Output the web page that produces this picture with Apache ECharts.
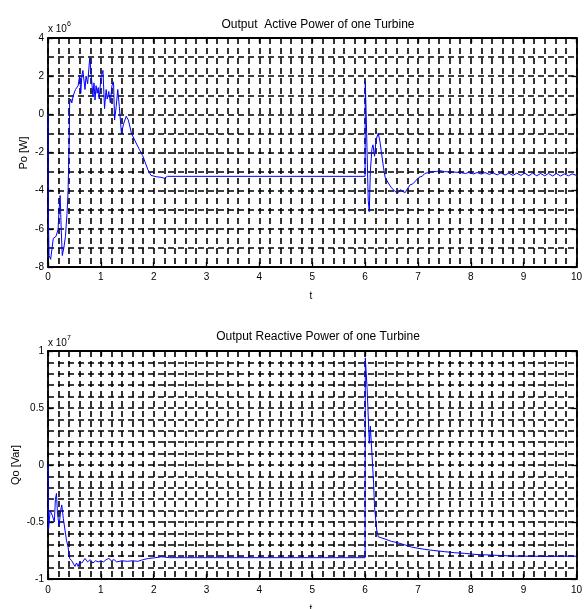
<!DOCTYPE html>
<html>
<head>
<meta charset="utf-8">
<script src="https://cdn.jsdelivr.net/npm/echarts@6/dist/echarts.min.js"></script>
<style>html,body{margin:0;padding:0;background:#fff}#c{width:585px;height:609px}</style>
</head>
<body>
<div id="c"></div>
<script>
// ---- Data ----
var xTicks = [0,1,2,3,4,5,6,7,8,9,10];
var titleP = 'Output  Active Power of one Turbine';
var titleQ = 'Output Reactive Power of one Turbine';
var labelP = 'Po [W]';
var labelQ = 'Qo [Var]';
var expP = '6';
var expQ = '7';

var timeP = [0,0.005,0.02,0.05,0.08,0.1,0.15,0.19,0.21,0.23,0.25,0.27,0.3,0.33,0.36,0.38,0.4,0.41,0.43,0.45,0.48,0.5,0.52,0.54,0.57,0.6,0.62,0.64,0.66,0.68,0.7,0.72,0.75,0.79,0.82,0.85,0.87,0.89,0.91,0.93,0.95,0.97,1.0,1.04,1.07,1.1,1.12,1.15,1.18,1.21,1.24,1.26,1.29,1.32,1.35,1.39,1.43,1.48,1.52,1.58,1.64,1.73,1.79,1.85,1.89,1.95,2.05,2.14,2.2,2.26,6.0,6.005,6.03,6.06,6.08,6.1,6.13,6.15,6.18,6.21,6.25,6.28,6.31,6.35,6.38,6.44,6.5,6.57,6.63,6.67,6.72,6.76,6.8,6.85,6.9,6.97,7.02,7.08,7.13,7.2,7.28,7.35,7.41,7.5,7.6,7.7,7.8,7.9,7.95,8.0,8.05,8.12,8.2,8.27,8.35,8.42,8.5,8.57,8.65,8.72,8.8,8.87,8.95,9.02,9.1,9.17,9.25,9.32,9.4,9.47,9.55,9.62,9.7,9.77,9.85,9.92,10.0];
var powerP = [0,-5,-7.4,-7.6,-7.5,-6.5,-6.4,-6.05,-5.0,-4.25,-6.0,-7.4,-7.0,-6.4,-5.2,-4.0,-1.5,0.6,0.8,0.6,1.0,0.9,1.3,1.4,1.5,2.05,1.1,2.0,2.3,2.3,1.3,2.0,1.6,2.95,2.0,0.95,1.65,0.75,1.5,1.1,1.4,0.8,1.9,2.3,0.3,1.3,0.8,1.2,0.6,1.5,1.7,-0.3,0.4,1.3,0.4,-1.0,-0.5,-0.1,-0.3,-1.0,-1.35,-1.85,-2.15,-2.6,-2.9,-3.2,-3.27,-3.3,-3.35,-3.25,-3.25,1.7,-1.0,-4.5,-5.1,-3.0,-1.8,-1.6,-2.2,-1.3,-1.0,-1.4,-2.0,-2.8,-3.3,-3.6,-3.85,-4.05,-4.1,-3.95,-4.05,-4.1,-3.9,-3.7,-3.65,-3.45,-3.3,-3.25,-3.1,-3.05,-3.0,-3.0,-2.95,-3.0,-3.02,-3.03,-3.05,-3.1,-3.05,-3.08,-3.12,-3.05,-3.13,-3.05,-3.15,-3.07,-3.17,-3.07,-3.18,-3.08,-3.2,-3.08,-3.2,-3.08,-3.22,-3.08,-3.22,-3.1,-3.22,-3.1,-3.23,-3.1,-3.23,-3.12,-3.22,-3.12,-3.2];

var timeQ = [0,0.01,0.04,0.08,0.12,0.14,0.16,0.18,0.21,0.24,0.26,0.29,0.32,0.35,0.38,0.41,0.45,0.48,0.51,0.54,0.57,0.6,0.64,0.7,0.75,0.8,0.85,0.9,0.95,1.0,1.05,1.1,1.15,1.2,1.25,1.3,1.4,1.5,1.6,1.7,1.8,1.9,2.0,2.15,2.3,6.0,6.005,6.04,6.08,6.1,6.13,6.16,6.18,6.22,6.25,6.38,6.5,6.6,6.75,6.88,7.0,7.13,7.3,7.5,7.7,7.88,8.1,8.39,8.6,8.9,9.2,9.4,9.7,10.0];
var powerQ = [0,-0.57,-0.4,-0.44,-0.5,-0.3,-0.25,-0.43,-0.53,-0.4,-0.35,-0.47,-0.47,-0.66,-0.72,-0.82,-0.84,-0.85,-0.89,-0.86,-0.89,-0.85,-0.86,-0.82,-0.85,-0.83,-0.86,-0.84,-0.85,-0.84,-0.85,-0.83,-0.82,-0.84,-0.83,-0.85,-0.84,-0.845,-0.84,-0.845,-0.83,-0.82,-0.815,-0.805,-0.813,-0.813,0.94,0.66,0.19,0.34,0.1,-0.15,-0.37,-0.57,-0.63,-0.65,-0.67,-0.68,-0.70,-0.72,-0.73,-0.74,-0.75,-0.76,-0.77,-0.775,-0.785,-0.79,-0.795,-0.80,-0.80,-0.802,-0.80,-0.80];

function pairs(t, v){ var r=[]; for (var i=0;i<t.length;i++) r.push([t[i], v[i]]); return r; }

var FONT = '"Liberation Sans", Arial, sans-serif';
var gridDash = {color:'#000', width:1.6, type:[6,4]};
var axisLine = {show:true, onZero:false, lineStyle:{color:'#000', width:1.8}};
var tickIn = {show:true, inside:true, length:5, lineStyle:{color:'#000', width:1.3}};
var lbl = {color:'#000', fontFamily:FONT, fontSize:10};

function mainX(gi, margin){
  return {type:'value', gridIndex:gi, position:'bottom', min:0, max:10, interval:1,
    axisLine:axisLine, axisTick:tickIn, axisLabel:Object.assign({margin:margin}, lbl),
    splitLine:{show:true, lineStyle:gridDash},
    minorTick:{show:false, splitNumber:5},
    minorSplitLine:{show:true, lineStyle:gridDash}};
}
function sideX(gi){
  return {type:'value', gridIndex:gi, position:'top', min:0, max:10, interval:1,
    axisLine:axisLine, axisTick:tickIn, axisLabel:{show:false}, splitLine:{show:false}};
}
function mainY(gi, mn, mx, iv, minorN){
  return {type:'value', gridIndex:gi, position:'left', min:mn, max:mx, interval:iv,
    axisLine:axisLine, axisTick:tickIn, axisLabel:Object.assign({margin:4}, lbl),
    splitLine:{show:true, lineStyle:gridDash},
    minorTick:{show:false, splitNumber:minorN},
    minorSplitLine:{show:true, lineStyle:gridDash}};
}
function sideY(gi, mn, mx, iv){
  return {type:'value', gridIndex:gi, position:'right', min:mn, max:mx, interval:iv,
    axisLine:axisLine, axisTick:tickIn, axisLabel:{show:false}, splitLine:{show:false}};
}

var chart = echarts.init(document.getElementById('c'), null, {renderer:'canvas'});
chart.setOption({
  backgroundColor:'#fff',
  animation:false,
  title:[
    {text:titleP, left:313, top:14, textAlign:'center', textStyle:{fontFamily:FONT, fontSize:12, fontWeight:'normal', color:'#000'}},
    {text:titleQ, left:313, top:326, textAlign:'center', textStyle:{fontFamily:FONT, fontSize:12, fontWeight:'normal', color:'#000'}}
  ],
  grid:[
    {left:48, right:6, top:38, height:229},
    {left:48, right:6, top:351, height:228}
  ],
  xAxis:[mainX(0,5), sideX(0), mainX(1,6), sideX(1)],
  yAxis:[mainY(0,-8,4,2,2), sideY(0,-8,4,2), mainY(1,-1,1,0.5,5), sideY(1,-1,1,0.5)],
  series:[
    {type:'line', xAxisIndex:0, yAxisIndex:0, data:pairs(timeP, powerP), showSymbol:false, symbol:'none',
     lineStyle:{color:'#0000ff', width:1}, z:5},
    {type:'line', xAxisIndex:2, yAxisIndex:2, data:pairs(timeQ, powerQ), showSymbol:false, symbol:'none',
     lineStyle:{color:'#0000ff', width:1}, z:5}
  ],
  graphic:[
    {type:'text', x:48, y:21, style:{text:'{a|x 10}{b|'+expP+'}', rich:{a:{fontFamily:FONT, fontSize:10, fill:'#000', verticalAlign:'bottom'}, b:{fontFamily:FONT, fontSize:7, fill:'#000', verticalAlign:'top', padding:[0,0,6,0]}}}},
    {type:'text', x:48, y:335, style:{text:'{a|x 10}{b|'+expQ+'}', rich:{a:{fontFamily:FONT, fontSize:10, fill:'#000', verticalAlign:'bottom'}, b:{fontFamily:FONT, fontSize:7, fill:'#000', verticalAlign:'top', padding:[0,0,6,0]}}}},
    {type:'text', x:24, y:153, rotation:Math.PI/2, style:{text:labelP, fontFamily:FONT, fontSize:11, fill:'#000', textAlign:'center', textVerticalAlign:'middle'}},
    {type:'text', x:16, y:465, rotation:Math.PI/2, style:{text:labelQ, fontFamily:FONT, fontSize:11, fill:'#000', textAlign:'center', textVerticalAlign:'middle'}},
    {type:'text', x:311, y:296, style:{text:'t', fontFamily:FONT, fontSize:10, fill:'#000', textAlign:'center', textVerticalAlign:'middle'}},
    {type:'text', x:311, y:609, style:{text:'t', fontFamily:FONT, fontSize:10, fill:'#000', textAlign:'center', textVerticalAlign:'middle'}}
  ]
});
</script>
</body>
</html>
